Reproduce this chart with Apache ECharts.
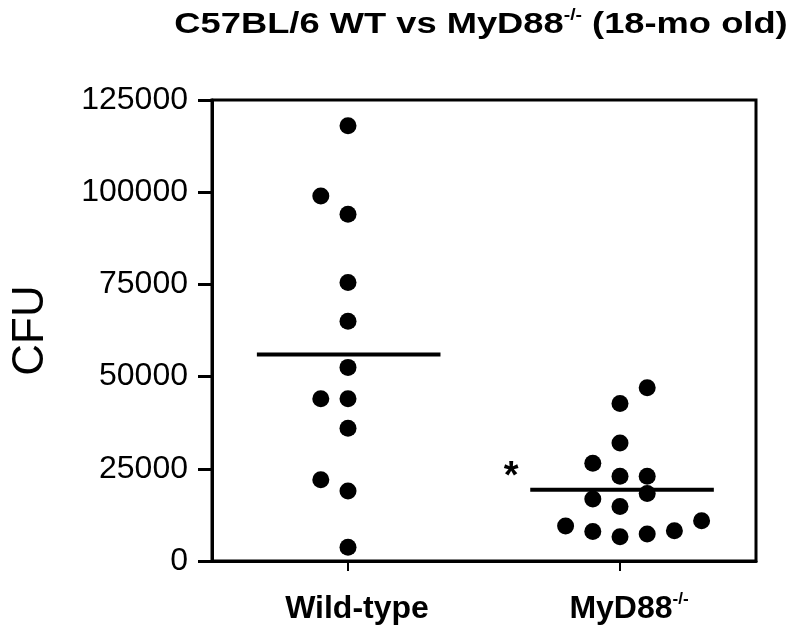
<!DOCTYPE html>
<html>
<head>
<meta charset="utf-8">
<script src="https://cdn.jsdelivr.net/npm/echarts@6/dist/echarts.min.js"></script>
<style>
  html, body { margin: 0; padding: 0; background: #fff; }
  #chart { width: 797px; height: 640px; }
</style>
</head>
<body>
<div id="chart"></div>
<script>
// group positions on the x axis (value axis 0..4)
const groupNames = ['Wild-type', 'MyD88']
const groupPos = [1, 3]

// CFU per mouse, x = jittered column position
const wtX = [1.0, 0.8, 1.0, 1.0, 1.0, 1.0, 0.8, 1.0, 1.0, 0.8, 1.0, 1.0]
const wtCFU = [118000, 99000, 94000, 75500, 65000, 52500, 44000, 44000, 36000, 22000, 19000, 3700]

const koX = [3.2, 3.0, 3.0, 2.8, 3.0, 3.2, 3.2, 2.8, 3.0, 2.6, 2.8, 3.0, 3.2, 3.4, 3.6]
const koCFU = [47000, 42700, 32000, 26500, 23000, 23000, 18300, 16800, 14800, 9500, 8000, 6600, 7300, 8200, 10900]

// mean bars
const wtMean = 56000
const wtMeanSpan = [0.33, 1.68]
const koMean = 19300
const koMeanSpan = [2.34, 3.69]

// significance marker
const starPos = [2.2, 24900]

const chart = echarts.init(document.getElementById('chart'), null, { renderer: 'canvas' })
const font = 'Liberation Sans, Arial, Helvetica, sans-serif'

const dot = (xs, ys) => xs.map((x, i) => [x, ys[i]])

chart.setOption({
  animation: false,
  // title as graphic text so it can be widened like the original
  graphic: [{
    type: 'text', x: 481, y: 25, scaleX: 1.21,
    style: {
      text: '{a|C57BL/6 WT vs MyD88}{s|-/-}{a| (18-mo old)}',
      align: 'center', verticalAlign: 'middle',
      rich: {
        a: { fontFamily: font, fontWeight: 'bold', fontSize: 30, fill: '#000', lineHeight: 34 },
        s: { fontFamily: font, fontWeight: 'bold', fontSize: 16, fill: '#000', verticalAlign: 'top', lineHeight: 34, padding: [0, 0, 13, 0] }
      }
    }
  }],
  grid: {
    left: 212, right: 41, top: 100, bottom: 79,
    show: true, borderColor: '#000', borderWidth: 3, backgroundColor: 'transparent'
  },
  xAxis: {
    type: 'value', min: 0, max: 4,
    splitLine: { show: false },
    axisLine: { show: true, lineStyle: { color: '#000', width: 3 } },
    axisTick: { show: true, customValues: groupPos, length: 10, lineStyle: { color: '#000', width: 2 } },
    axisLabel: {
      customValues: groupPos, margin: 30,
      formatter: v => v === groupPos[0] ? '{b|' + groupNames[0] + '}' : '{b|' + groupNames[1] + '}{s|-/-}',
      rich: {
        b: { fontFamily: font, fontWeight: 'bold', fontSize: 32, color: '#000', lineHeight: 36, padding: [0, 0, 0, 18] },
        s: { fontFamily: font, fontWeight: 'bold', fontSize: 17, color: '#000', verticalAlign: 'top', lineHeight: 36, padding: [0, 0, 14, 0] }
      }
    }
  },
  yAxis: {
    type: 'value', min: 0, max: 125000, interval: 25000,
    name: 'CFU', nameLocation: 'middle', nameGap: 159, nameRotate: 90,
    nameTextStyle: { fontFamily: font, fontSize: 44, color: '#000' },
    splitLine: { show: false },
    axisLine: { show: true, lineStyle: { color: '#000', width: 3 } },
    axisTick: { show: true, length: 14, lineStyle: { color: '#000', width: 3 } },
    axisLabel: { fontFamily: font, fontSize: 32, color: '#000', margin: 24, formatter: v => String(v) }
  },
  series: [
    { type: 'scatter', data: dot(wtX, wtCFU), symbolSize: 17, itemStyle: { color: '#000', opacity: 1 } },
    { type: 'scatter', data: dot(koX, koCFU), symbolSize: 17, itemStyle: { color: '#000', opacity: 1 } },
    { type: 'line', data: wtMeanSpan.map(x => [x, wtMean]), symbol: 'none', lineStyle: { color: '#000', width: 4 } },
    { type: 'line', data: koMeanSpan.map(x => [x, koMean]), symbol: 'none', lineStyle: { color: '#000', width: 4 } },
    {
      type: 'scatter', data: [starPos], symbolSize: 0, itemStyle: { color: '#000', opacity: 1 },
      label: { show: true, position: 'inside', formatter: '*', fontFamily: font, fontWeight: 'bold', fontSize: 38, color: '#000', opacity: 1, offset: [0, 8] }
    }
  ]
})
</script>
</body>
</html>
